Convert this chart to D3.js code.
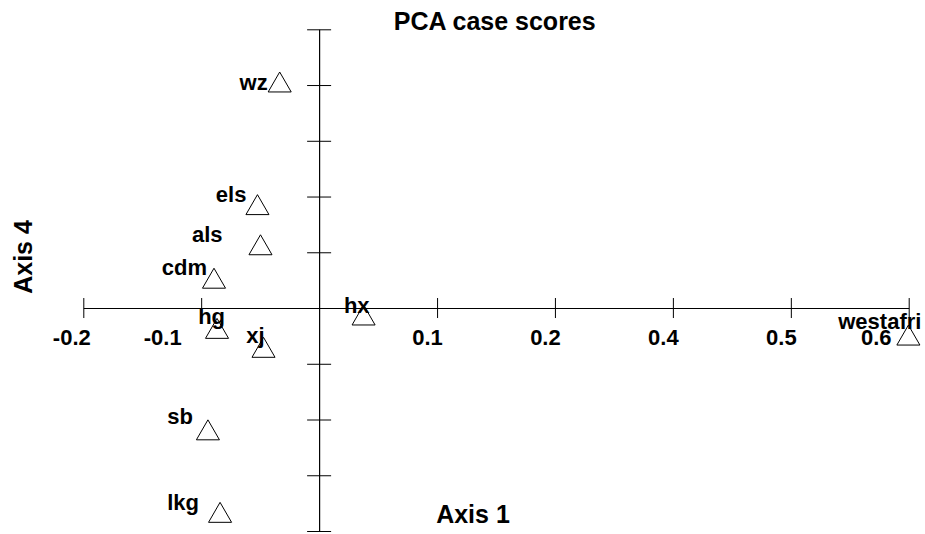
<!DOCTYPE html>
<html>
<head>
<meta charset="utf-8">
<script src="https://cdn.jsdelivr.net/npm/d3@7"></script>
<style>
    html, body { margin: 0; padding: 0; background: #fff; }
    svg text { font-family: "Liberation Sans", Arial, sans-serif; font-weight: bold; fill: #000; }
</style>
</head>
<body>
<div id="mainDiv"></div>
<script>
// case names and their scores on the two axes
var caseNames = [ 'wz', 'els', 'als', 'cdm', 'hg', 'xj', 'hx', 'sb', 'lkg', 'westafri' ];
var axis1Scores = [ -0.039, -0.061, -0.058, -0.104, -0.101, -0.055, 0.044, -0.110, -0.098, 0.583 ];
var axis4Scores = [ 0.202, 0.092, 0.056, 0.026, -0.019, -0.036, -0.007, -0.110, -0.184, -0.025 ];

// tick values (the program rounds the labels to one decimal)
var xTickValues = [ -0.2333, -0.1167, 0.1167, 0.2333, 0.35, 0.4667, 0.5833 ];
var xTickLabels = [ '-0.2', '-0.1', '0.1', '0.2', '0.4', '0.5', '0.6' ];
var yTickValues = [ -0.2, -0.15, -0.1, -0.05, 0.05, 0.1, 0.15, 0.2, 0.25 ];

var ChartMain = function () {
    var _width = 925, _height = 534,
        _svg, _x, _y, _xAxis, _yAxis,
        // label nudges, placed by the original program to dodge overlaps
        _caseLabelShift = [ [ -12, 7 ], [ -11, -3 ], [ -38, -4 ], [ -7, -4 ], [ 8, -5 ], [ 1, -5 ], [ 6, -3 ], [ -15, -7 ], [ -21, -3 ], [ 13, -7 ] ],
        _tickLabelShift = [ -12, -39, -10, -10, -10, -10, -33 ],
        _tri = d3.symbol().type( d3.symbolTriangle ).size( 230 );

    _svg = d3.select( '#mainDiv' )
        .append( 'svg' )
        .attr( 'width', _width )
        .attr( 'height', _height );

    _x = d3.scaleLinear()
        .domain( [ -0.2333, 0.5833 ] )
        .range( [ 83.3, 908.7 ] );
    _y = d3.scaleLinear()
        .domain( [ -0.2, 0.25 ] )
        .range( [ 531, 29.3 ] );

    // x axis through y = 0
    _xAxis = _svg.append( 'g' )
        .attr( 'transform', 'translate(0,' + _y( 0 ) + ')' )
        .call( d3.axisBottom( _x )
            .tickValues( xTickValues )
            .tickFormat( function ( d, i ) { return xTickLabels[ i ]; } )
            .tickSizeOuter( 0 ) );
    _xAxis.select( '.domain' ).attr( 'stroke', '#000' ).attr( 'stroke-width', 1.2 );
    _xAxis.selectAll( '.tick line' ).attr( 'y1', -10 ).attr( 'y2', 10 ).attr( 'stroke', '#000' );
    _xAxis.selectAll( '.tick text' )
        .attr( 'y', 37 )
        .attr( 'dy', 0 )
        .attr( 'x', function ( d, i ) { return _tickLabelShift[ i ]; } )
        .style( 'font-size', '22px' );

    // y axis through x = 0, no labels
    _yAxis = _svg.append( 'g' )
        .attr( 'transform', 'translate(' + _x( 0 ) + ',0)' )
        .call( d3.axisLeft( _y )
            .tickValues( yTickValues )
            .tickFormat( '' )
            .tickSizeOuter( 0 ) );
    _yAxis.select( '.domain' ).attr( 'stroke', '#000' ).attr( 'stroke-width', 1.2 );
    _yAxis.selectAll( '.tick line' ).attr( 'x1', -12 ).attr( 'x2', 12 ).attr( 'stroke', '#000' );

    // case markers
    var pts = _svg.append( 'g' ).selectAll( 'g' )
        .data( caseNames )
        .join( 'g' )
        .attr( 'transform', function ( d, i ) {
            return 'translate(' + _x( axis1Scores[ i ] ) + ',' + _y( axis4Scores[ i ] ) + ')';
        } );
    pts.append( 'path' )
        .attr( 'd', _tri )
        .attr( 'transform', 'translate(0,2.5)' )
        .attr( 'fill', 'none' )
        .attr( 'stroke', '#000' )
        .attr( 'stroke-width', 1 );
    pts.append( 'text' )
        .attr( 'text-anchor', 'end' )
        .attr( 'x', function ( d, i ) { return _caseLabelShift[ i ][ 0 ]; } )
        .attr( 'y', function ( d, i ) { return _caseLabelShift[ i ][ 1 ]; } )
        .style( 'font-size', '22px' )
        .text( function ( d ) { return d; } );

    // titles
    _svg.append( 'text' )
        .attr( 'x', 494.7 )
        .attr( 'y', 29.5 )
        .attr( 'text-anchor', 'middle' )
        .style( 'font-size', '25px' )
        .text( 'PCA case scores' );
    _svg.append( 'text' )
        .attr( 'x', 473 )
        .attr( 'y', 523 )
        .attr( 'text-anchor', 'middle' )
        .style( 'font-size', '25px' )
        .text( 'Axis 1' );
    _svg.append( 'text' )
        .attr( 'transform', 'translate(31.5,257) rotate(-90)' )
        .attr( 'text-anchor', 'middle' )
        .style( 'font-size', '25px' )
        .text( 'Axis 4' );
}();
</script>
</body>
</html>
